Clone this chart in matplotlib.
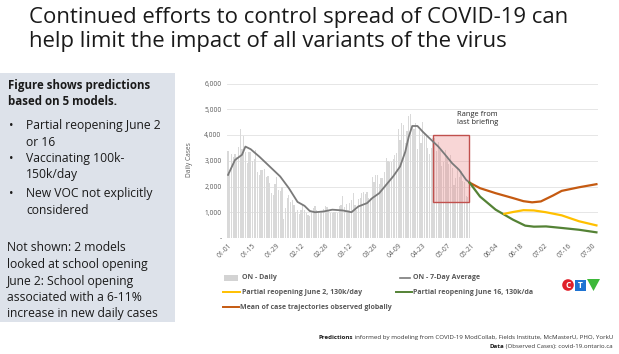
import matplotlib
matplotlib.use('Agg')
import matplotlib.pyplot as plt
from matplotlib.patches import Rectangle, Circle, Polygon
from matplotlib.lines import Line2D

plt.rcParams['font.family'] = ['Open Sans', 'DejaVu Sans']

# ---- data ----
daily_jan = [3363, 2476, 3270, 3128, 3266, 3128, 3519, 4249, 3443, 3945, 3338, 2903, 3326, 3326, 2998, 3056,
             3422, 2578, 2432, 2655, 2632, 2662, 2359, 2417, 2154, 1740, 1670, 2093, 2378, 1848, 1808]
daily_feb = [1969, 745, 1172, 1563, 1670, 1388, 1489, 1265, 1022, 1072, 945, 1076, 1300, 1076, 964, 904,
             847, 1038, 1150, 1228, 1087, 1058, 975, 1054, 1138, 1258, 1185, 1062]
daily_mar = [966, 958, 1023, 994, 990, 1250, 1299, 1631, 1185, 1316, 1092, 1371, 1468, 1747, 1268, 1074,
             1508, 1553, 1745, 1791, 1699, 1791, 1546, 1571, 2380, 2169, 2453, 2448, 2094, 2336, 2333]
daily_apr = [2557, 3089, 3009, 2958, 2938, 3065, 3215, 3295, 4227, 3813, 4456, 4401, 3670, 4156, 4736, 4812,
             4362, 4250, 4447, 3469, 4212, 3682, 4505, 4094, 3947, 3510, 3265, 3480, 3871, 3887]
daily_may = [3369, 3732, 3436, 2791, 2941, 3424, 3166, 2864, 3216, 2716, 2073, 2320, 2759, 2362, 2584, 2199,
             2170, 1616, 1588, 2400]
daily = daily_jan + daily_feb + daily_mar + daily_apr + daily_may
daily_days = list(range(len(daily)))

avg_days = [0, 4, 8, 10, 13, 18, 24, 30, 35, 40, 44, 47, 50, 55, 60, 66, 71, 75, 80, 83, 87, 91, 95, 99,
            102, 104, 106, 109, 112, 116, 121, 125, 129, 133, 137, 139]
avg_vals = [2450, 3030, 3230, 3550, 3450, 3160, 2775, 2390, 1935, 1400, 1250, 1050, 1000, 1030, 1100, 1070,
            1000, 1225, 1355, 1550, 1740, 2065, 2390, 2775, 3350, 3935, 4350, 4350, 4130, 3870, 3550, 3230,
            2900, 2645, 2260, 2150]

june2_days = [159, 164, 170, 176, 183, 192, 202, 212]
june2_vals = [940, 1010, 1080, 1070, 1000, 880, 650, 490]
june16_days = [139, 145, 154, 164, 171, 176, 183, 192, 202, 212]
june16_vals = [2150, 1610, 1100, 710, 480, 440, 450, 390, 320, 220]
global_days = [139, 145, 154, 164, 170, 175, 180, 187, 192, 202, 212]
global_vals = [2150, 1935, 1740, 1550, 1430, 1385, 1420, 1650, 1830, 1970, 2090]

tick_days = [0, 14, 28, 42, 56, 70, 84, 98, 112, 126, 140, 154, 168, 182, 196, 210]
tick_labels = ['01-01', '01-15', '01-29', '02-12', '02-26', '03-12', '03-26', '04-09', '04-23',
               '05-07', '05-21', '06-04', '06-18', '07-02', '07-16', '07-30']
y_ticks = [0, 1000, 2000, 3000, 4000, 5000, 6000]
y_labels = ['-', '1,000', '2,000', '3,000', '4,000', '5,000', '6,000']

W, H = 619, 354
def fx(px):
    return px / W
def fy(py):
    return 1 - py / H

fig = plt.figure(figsize=(6.19, 3.54), dpi=100)

# title
fig.text(fx(29), fy(22.7), 'Continued efforts to control spread of COVID-19 can',
         fontsize=15.9, color='#1a1a1a', va='baseline')
fig.text(fx(29), fy(46.5), 'help limit the impact of all variants of the virus',
         fontsize=15.9, color='#1a1a1a', va='baseline')

# left info panel
fig.add_artist(Rectangle((fx(0), fy(322)), fx(175), fy(73) - fy(322),
                         transform=fig.transFigure, facecolor='#dde2ea', edgecolor='none'))
panel_txt = 8.7
fig.text(fx(8), fy(85), 'Figure shows predictions', fontsize=8.3, weight='bold', va='center', color='#1a1a1a')
fig.text(fx(8), fy(101.7), 'based on 5 models.', fontsize=8.3, weight='bold', va='center', color='#1a1a1a')
bullets = [(125, 'Partial reopening June 2', True), (142.7, 'or 16', False),
           (158.5, 'Vaccinating 100k-', True), (175, '150k/day', False),
           (193, 'New VOC not explicitly', True), (210.5, 'considered', False)]
for yy, s, dot in bullets:
    if dot:
        fig.text(fx(9), fy(yy), '\u2022', fontsize=panel_txt, va='center', color='#1a1a1a')
    fig.text(fx(26), fy(yy), s, fontsize=panel_txt, va='center', color='#1a1a1a')
notes = ['Not shown: 2 models', 'looked at school opening', 'June 2: School opening',
         'associated with a 6-11%', 'increase in new daily cases']
for yy, s in zip([247.5, 264.5, 281, 297.5, 314], notes):
    fig.text(fx(7), fy(yy), s, fontsize=panel_txt, va='center', color='#1a1a1a')

# chart
ax = fig.add_axes([fx(227), fy(238), fx(598) - fx(227), fy(83.5) - fy(238)])
ax.bar(daily_days, daily, width=0.7, color='#d9d9d9', zorder=2)
ax.plot(avg_days, avg_vals, color='#7a7a7a', lw=1.3, zorder=4)
ax.plot(global_days, global_vals, color='#c55a11', lw=1.6, zorder=4)
ax.plot(june16_days, june16_vals, color='#548235', lw=1.6, zorder=4)
ax.plot(june2_days, june2_vals, color='#ffc000', lw=1.6, zorder=4)
ax.add_patch(Rectangle((118.2, 1400), 20.3, 2600, facecolor=(0.93, 0.55, 0.55, 0.35),
                       edgecolor='#c0504d', lw=1.0, zorder=3))
ax.text(131.5, 4650, 'Range from\nlast briefing', fontsize=5.4, color='#262626',
        va='center', ha='left', linespacing=1.3)

ax.set_xlim(-0.6, 212.9)
ax.set_ylim(0, 6000)
ax.set_yticks(y_ticks)
ax.set_yticklabels(y_labels)
ax.set_xticks(tick_days)
ax.set_xticklabels(tick_labels, rotation=45, ha='right', rotation_mode='anchor')
ax.tick_params(axis='both', length=0, labelsize=4.8, labelcolor='#595959')
ax.tick_params(axis='x', pad=3)
ax.tick_params(axis='y', pad=4)
for s in ax.spines.values():
    s.set_visible(False)
ax.grid(axis='y', color='#e6e6e6', lw=0.7, zorder=0)
ax.set_axisbelow(True)
fig.text(fx(190), fy(160), 'Daily Cases', rotation=90, fontsize=4.8, color='#595959', va='center', ha='center')

# legend
leg_kw = dict(fontsize=5.0, weight='bold', color='#595959', va='center')
fig.add_artist(Rectangle((fx(224.3), fy(280.5)), fx(14), fy(275) - fy(280.5),
                         transform=fig.transFigure, facecolor='#d3d3d3', edgecolor='none'))
fig.text(fx(241.7), fy(277.7), 'ON - Daily', **leg_kw)
fig.add_artist(Line2D([fx(400), fx(410)], [fy(277.7)] * 2, transform=fig.transFigure, color='#7a7a7a', lw=1.2))
fig.text(fx(413.3), fy(277.7), 'ON - 7-Day Average', **leg_kw)
fig.add_artist(Line2D([fx(223.3), fx(240)], [fy(292.3)] * 2, transform=fig.transFigure, color='#ffc000', lw=1.4))
fig.text(fx(241.7), fy(292.3), 'Partial reopening June 2, 130k/day', **leg_kw)
fig.add_artist(Line2D([fx(396), fx(411.7)], [fy(292.3)] * 2, transform=fig.transFigure, color='#548235', lw=1.4))
fig.text(fx(413.3), fy(292.3), 'Partial reopening June 16, 130k/da', **leg_kw)
fig.add_artist(Line2D([fx(223), fx(239)], [fy(307.3)] * 2, transform=fig.transFigure, color='#c55a11', lw=1.4))
fig.text(fx(240), fy(307.3), 'Mean of case trajectories observed globally', **leg_kw)

# CTV logo, in its own pixel-scaled axes
lg = fig.add_axes([fx(561), fy(292), fx(40), fy(278) - fy(292)])
lg.set_xlim(0, 40)
lg.set_ylim(0, 14)
lg.axis('off')
lg.add_patch(Circle((7, 7), 5.8, facecolor='#e0202a', edgecolor='none'))
lg.text(7, 7, 'C', fontsize=6, weight='bold', color='white', ha='center', va='center')
lg.add_patch(Rectangle((14, 1.5), 11, 11, facecolor='#1e73d2', edgecolor='none'))
lg.text(19.5, 7, 'T', fontsize=6, weight='bold', color='white', ha='center', va='center')
lg.add_patch(Polygon([(26, 13), (39, 13), (32.5, 1)], closed=True, facecolor='#3db83a', edgecolor='none'))

# footer with bold lead words
fig.canvas.draw()
r = fig.canvas.get_renderer()
for yy, lead, rest in [(339, 'Predictions', ' informed by modeling from COVID-19 ModCollab, Fields Institute, McMasterU, PHO, YorkU'),
                       (348, 'Data', ' (Observed Cases): covid-19.ontario.ca')]:
    t = fig.text(fx(613), fy(yy), rest, fontsize=4.4, color='#333333', ha='right', va='baseline')
    w = t.get_window_extent(renderer=r).width
    fig.text(fx(613) - w / fig.bbox.width, fy(yy), lead, fontsize=4.4, weight='bold', color='#1a1a1a',
             ha='right', va='baseline')

fig.savefig('out.png', dpi=100)
